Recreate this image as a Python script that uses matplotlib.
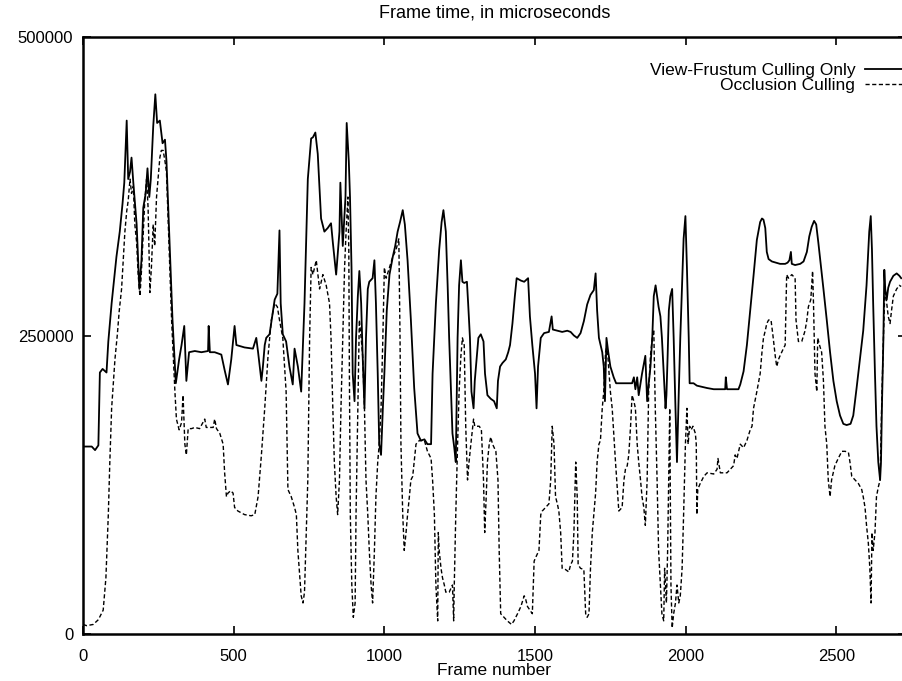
import numpy as np
import matplotlib
matplotlib.use("Agg")
import matplotlib.pyplot as plt

plt.rcParams['font.family'] = ['Liberation Sans', 'DejaVu Sans']

# Frame time (microseconds, stored in thousands) for View-Frustum Culling Only
vfc_frames = [0, 29, 40, 51, 56, 65, 78, 84, 95, 111, 122, 131, 137, 145, 150, 156, 161, 167, 178, 187,
              194, 200, 208, 214, 220, 225, 233, 240, 246, 255, 264, 272, 277, 286, 297, 308, 319, 327,
              336, 343, 352, 371, 393, 415, 417, 421, 437, 459, 470, 481, 492, 503, 509, 536, 564, 575,
              581, 592, 597, 603, 608, 619, 636, 645, 652, 656, 663, 674, 685, 696, 702, 713, 724, 735,
              746, 757, 763, 771, 779, 790, 801, 812, 823, 829, 840, 851, 854, 862, 871, 875, 882, 886,
              891, 895, 901, 906, 912, 917, 923, 928, 934, 939, 945, 950, 961, 967, 972, 978, 983, 989,
              995, 1000, 1008, 1017, 1028, 1036, 1044, 1052, 1061, 1068, 1077, 1088, 1099, 1110, 1121,
              1133, 1143, 1155, 1160, 1171, 1182, 1190, 1196, 1204, 1210, 1215, 1221, 1226, 1232, 1237,
              1243, 1248, 1254, 1259, 1265, 1274, 1278, 1284, 1289, 1296, 1300, 1307, 1312, 1320, 1329,
              1334, 1342, 1353, 1364, 1373, 1377, 1384, 1392, 1403, 1411, 1417, 1425, 1433, 1439, 1453,
              1464, 1477, 1483, 1491, 1500, 1505, 1510, 1519, 1530, 1546, 1555, 1559, 1574, 1590, 1607,
              1618, 1629, 1640, 1651, 1662, 1673, 1684, 1695, 1701, 1706, 1712, 1723, 1728, 1732, 1737,
              1743, 1750, 1761, 1769, 1778, 1795, 1811, 1822, 1828, 1833, 1839, 1844, 1855, 1866, 1872,
              1877, 1883, 1889, 1894, 1900, 1905, 1910, 1916, 1921, 1927, 1933, 1936, 1940, 1944, 1949,
              1955, 1960, 1966, 1971, 1977, 1982, 1988, 1993, 1999, 2004, 2010, 2013, 2026, 2037, 2054,
              2071, 2093, 2131, 2133, 2137, 2175, 2181, 2192, 2203, 2214, 2225, 2236, 2247, 2253, 2258,
              2264, 2269, 2275, 2286, 2300, 2313, 2330, 2338, 2344, 2349, 2352, 2363, 2380, 2391, 2402,
              2410, 2418, 2426, 2433, 2440, 2448, 2457, 2468, 2479, 2490, 2501, 2512, 2523, 2534, 2547,
              2556, 2567, 2578, 2589, 2600, 2609, 2614, 2618, 2622, 2628, 2633, 2639, 2645, 2648, 2651,
              2656, 2659, 2662, 2667, 2672, 2678, 2689, 2700, 2709, 2715]
vfc_values_k = [157, 157, 154, 158, 219, 222, 219, 245, 277, 316, 337, 360, 378, 430, 381, 387, 399, 378,
                343, 289, 313, 357, 369, 390, 366, 381, 425, 452, 428, 430, 411, 414, 396, 337, 263, 210,
                230, 242, 258, 212, 236, 237, 236, 237, 258, 236, 236, 234, 221, 209, 230, 258, 242, 240,
                239, 248, 236, 212, 224, 242, 248, 251, 280, 285, 338, 277, 251, 245, 224, 209, 239, 224,
                203, 277, 381, 415, 416, 420, 402, 348, 337, 340, 344, 328, 301, 337, 378, 325, 366, 428,
                396, 366, 307, 218, 195, 248, 283, 304, 277, 233, 189, 248, 289, 295, 298, 313, 277, 218,
                159, 150, 189, 218, 271, 301, 316, 325, 337, 345, 355, 343, 313, 263, 206, 168, 162, 163,
                159, 159, 218, 277, 322, 345, 355, 337, 292, 248, 203, 168, 156, 144, 248, 292, 313, 295,
                294, 295, 277, 248, 203, 189, 212, 233, 248, 251, 245, 218, 200, 197, 195, 189, 212, 224,
                227, 230, 236, 242, 260, 283, 298, 296, 295, 298, 266, 242, 218, 189, 224, 248, 252, 253,
                266, 255, 254, 253, 254, 253, 250, 248, 252, 262, 276, 284, 288, 302, 271, 248, 236, 224,
                195, 248, 236, 224, 215, 210, 210, 210, 210, 210, 215, 205, 215, 200, 218, 233, 195, 209,
                224, 248, 283, 292, 283, 274, 266, 248, 218, 189, 200, 233, 271, 283, 289, 248, 189, 144,
                203, 248, 292, 331, 350, 307, 248, 210, 210, 208, 207, 206, 205, 205, 215, 205, 205, 209,
                220, 242, 271, 300, 330, 345, 348, 347, 340, 320, 314, 312, 311, 310, 310, 311, 313, 320,
                310, 309, 310, 312, 320, 333, 341, 346, 343, 328, 310, 289, 263, 236, 212, 195, 183, 176,
                175, 176, 183, 206, 230, 254, 292, 337, 350, 322, 277, 218, 174, 144, 129, 144, 189, 248,
                305, 289, 280, 290, 295, 300, 302, 300, 298]

# Frame time (microseconds, stored in thousands) for Occlusion Culling
occ_frames = [0, 12, 34, 51, 67, 76, 84, 89, 95, 106, 114, 120, 128, 134, 139, 145, 150, 156, 161, 167,
              172, 178, 183, 189, 194, 200, 205, 211, 216, 222, 227, 233, 238, 244, 250, 255, 260, 266,
              272, 277, 283, 288, 294, 305, 310, 319, 327, 332, 338, 343, 349, 360, 371, 387, 404, 409,
              432, 437, 443, 454, 465, 470, 476, 481, 490, 498, 503, 514, 536, 558, 570, 581, 592, 603,
              614, 625, 636, 645, 652, 663, 674, 680, 691, 702, 708, 713, 724, 730, 735, 746, 752, 757,
              763, 774, 785, 796, 807, 818, 823, 829, 834, 840, 845, 851, 856, 862, 868, 873, 879, 882,
              884, 887, 892, 897, 903, 906, 912, 917, 923, 928, 934, 939, 945, 950, 956, 961, 967, 972,
              978, 983, 989, 995, 1000, 1006, 1017, 1028, 1039, 1048, 1052, 1055, 1061, 1066, 1072, 1077,
              1083, 1088, 1094, 1099, 1105, 1116, 1133, 1143, 1155, 1160, 1166, 1171, 1177, 1179, 1182,
              1188, 1193, 1199, 1204, 1215, 1226, 1230, 1232, 1237, 1243, 1248, 1254, 1259, 1265, 1270,
              1276, 1281, 1287, 1296, 1300, 1315, 1322, 1329, 1333, 1338, 1342, 1348, 1353, 1359, 1370,
              1377, 1381, 1386, 1397, 1408, 1422, 1430, 1442, 1453, 1464, 1469, 1475, 1483, 1491, 1497,
              1502, 1513, 1519, 1524, 1535, 1546, 1552, 1557, 1563, 1568, 1574, 1579, 1585, 1590, 1601,
              1612, 1618, 1624, 1629, 1635, 1640, 1643, 1651, 1662, 1668, 1673, 1679, 1684, 1690, 1701,
              1706, 1712, 1717, 1723, 1728, 1734, 1739, 1745, 1750, 1756, 1767, 1778, 1789, 1795, 1800,
              1806, 1811, 1817, 1822, 1828, 1833, 1839, 1844, 1850, 1855, 1861, 1866, 1872, 1877, 1883,
              1889, 1894, 1899, 1905, 1910, 1916, 1921, 1927, 1930, 1936, 1940, 1947, 1951, 1955, 1960,
              1966, 1971, 1977, 1982, 1988, 1993, 1999, 2004, 2008, 2013, 2018, 2024, 2032, 2035, 2037,
              2040, 2043, 2048, 2060, 2071, 2093, 2104, 2107, 2115, 2137, 2148, 2159, 2164, 2170, 2181,
              2192, 2203, 2214, 2220, 2225, 2236, 2247, 2253, 2258, 2264, 2269, 2275, 2283, 2289, 2297,
              2302, 2308, 2313, 2324, 2330, 2335, 2341, 2352, 2363, 2366, 2374, 2385, 2396, 2402, 2407,
              2415, 2421, 2424, 2429, 2435, 2438, 2444, 2451, 2457, 2462, 2468, 2473, 2479, 2484, 2495,
              2506, 2518, 2529, 2540, 2545, 2551, 2562, 2573, 2584, 2589, 2595, 2600, 2606, 2611, 2615,
              2618, 2622, 2628, 2633, 2639, 2645, 2650, 2656, 2661, 2667, 2672, 2678, 2683, 2689, 2700,
              2709, 2715]
occ_values_k = [8, 7, 8, 12, 20, 47, 100, 144, 189, 230, 251, 270, 289, 316, 337, 354, 363, 381, 369, 375,
                343, 328, 301, 283, 304, 337, 363, 381, 357, 286, 307, 343, 325, 366, 384, 399, 405, 405,
                396, 387, 343, 307, 263, 203, 180, 171, 177, 200, 159, 150, 172, 172, 173, 172, 180, 173,
                173, 180, 172, 168, 159, 135, 115, 118, 120, 118, 106, 103, 100, 99, 100, 115, 150, 189,
                233, 263, 277, 274, 263, 248, 203, 121, 115, 106, 100, 70, 32, 26, 35, 129, 248, 307,
                301, 313, 289, 301, 292, 277, 248, 189, 144, 115, 100, 129, 189, 248, 307, 337, 366, 322,
                218, 100, 41, 14, 26, 100, 189, 263, 248, 233, 189, 129, 100, 70, 41, 26, 70, 115,
                144, 159, 189, 248, 307, 298, 307, 316, 322, 331, 248, 159, 100, 70, 85, 100,
                115, 129, 132, 144, 159, 162, 162, 153, 147, 129, 100, 41, 11, 85, 70,
                55, 47, 41, 35, 35, 41, 11, 41, 100, 159, 203, 233, 248, 242, 174,
                129, 144, 159, 180, 174, 174, 171, 129, 85, 115, 144, 159, 165, 159, 153,
                129, 70, 17, 14, 11, 8, 11, 17, 23, 32, 29, 23, 20, 17, 61,
                64, 70, 100, 103, 106, 109, 129, 174, 159, 115, 109, 103, 85, 55, 54,
                52, 58, 61, 85, 144, 115, 58, 55, 54, 17, 14, 17, 55, 85, 118,
                144, 159, 162, 189, 203, 236, 242, 221, 203, 189, 144, 103, 106, 129, 138,
                141, 150, 174, 200, 195, 189, 159, 144, 129, 115, 106, 91, 129, 203, 233,
                248, 255, 189, 129, 70, 41, 17, 11, 55, 26, 70, 189, 41, 5, 17,
                26, 41, 26, 32, 55, 100, 159, 189, 159, 174, 171, 174, 168, 159, 100,
                121, 123, 126, 132, 135, 134, 138, 147, 135, 135, 138, 141, 150, 147, 159,
                156, 162, 171, 174, 189, 203, 218, 236, 248, 254, 260, 263, 263, 251, 233,
                224, 230, 233, 239, 242, 301, 298, 301, 298, 263, 245, 245, 254, 263, 274,
                280, 304, 277, 218, 203, 248, 242, 236, 212, 174, 159, 129, 115, 129, 141,
                147, 153, 153, 152, 144, 132, 129, 126, 121, 115, 106, 91, 76, 55, 26,
                85, 70, 85, 115, 123, 129, 189, 248, 289, 277, 266, 260, 271, 283, 289,
                292, 291]

x_ticks = [0, 500, 1000, 1500, 2000, 2500]
y_ticks = [0, 250000, 500000]
series_labels = ["View-Frustum Culling Only", "Occlusion Culling"]

fig = plt.figure(figsize=(9.03, 6.81), dpi=100)
ax = fig.add_axes([83 / 903, 1 - 634 / 681, 1.0 - 83 / 903 + 0.003, (634 - 37) / 681])

ax.plot(vfc_frames, np.array(vfc_values_k) * 1000, color='black', lw=1.3,
        label=series_labels[0])
ax.plot(occ_frames, np.array(occ_values_k) * 1000, color='black', lw=1.0,
        linestyle=(0, (3.0, 1.8)), label=series_labels[1])

ax.set_xlim(0, 2730)
ax.set_ylim(0, 500000)
ax.set_xticks(x_ticks)
ax.set_yticks(y_ticks)
ax.set_xticklabels([str(t) for t in x_ticks])
ax.set_yticklabels([str(t) for t in y_ticks])
ax.tick_params(direction='in', length=6, width=1.2, labelsize=12, top=True, right=True)
ax.tick_params(axis='x', pad=11)
ax.tick_params(axis='y', pad=7)
for s in ax.spines.values():
    s.set_linewidth(1.8)

ax.set_title("Frame time, in microseconds", fontsize=13, pad=14)
ax.set_xlabel("Frame number", fontsize=12.5, labelpad=-1)

leg = ax.legend(loc='upper right', bbox_to_anchor=(1.0, 1 - 63 / 681),
                bbox_transform=fig.transFigure, frameon=False, markerfirst=False,
                fontsize=12.5, handlelength=2.2, handletextpad=0.55, labelspacing=0.0,
                borderaxespad=0.0, borderpad=0.0)

fig.savefig("out.png", dpi=100)
